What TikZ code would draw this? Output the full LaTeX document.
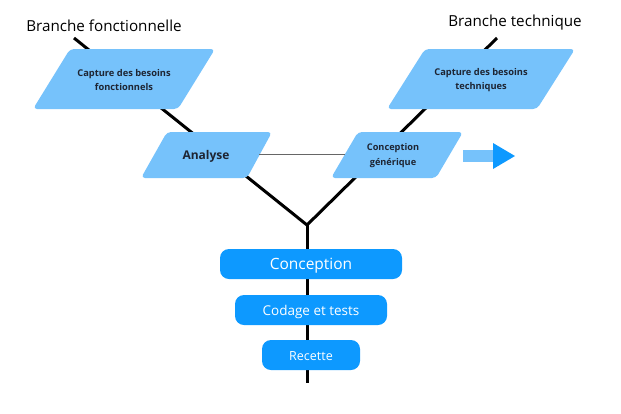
\documentclass[tikz,border=0pt]{standalone}
\usepackage{fontspec}
\setmainfont{Open Sans}
\definecolor{para}{HTML}{76C2FB}
\definecolor{pill}{HTML}{0D99FF}
\definecolor{ink}{HTML}{1E2533}
\begin{document}
\begin{tikzpicture}[x=1pt,y=-1pt,
  branch/.style={line width=3pt},
  pshape/.style={fill=para,rounded corners=4pt},
  ptext/.style={font=\bfseries\fontsize{9.3}{14.5}\selectfont,text=ink,align=center,inner sep=0pt},
  pillbox/.style={fill=pill,rounded corners=9pt},
  pilltext/.style={text=white,inner sep=0pt},
  title/.style={font=\fontsize{15.2}{17}\selectfont,text=black,inner sep=0pt}]
\useasboundingbox (0,0) rectangle (621,413);
% branch lines
\coordinate (ftop) at (74,38);
\coordinate (ttop) at (497,38);
\coordinate (j) at (307,225);
\coordinate (bot) at (307,383);
\draw[branch] (ftop) -- (j) -- (ttop);
\draw[branch] (j) -- (bot);
% parallelograms
\path[pshape] (70,49) -- (215,49) -- (178,109) -- (33,109) -- cycle;
\node[ptext] (cbf) at (124,80) {Capture des besoins\\fonctionnels};
\path[pshape] (425,49) -- (575,49) -- (537,109) -- (387,109) -- cycle;
\node[ptext] (cbt) at (481,80) {Capture des besoins\\techniques};
\path[pshape] (167,132) -- (272,132) -- (247,178) -- (141,178) -- cycle;
\node[ptext,font=\bfseries\fontsize{12}{14}\selectfont] (ana) at (206,156.5) {Analyse};
\path[pshape] (358,132) -- (463,132) -- (436,178) -- (331,178) -- cycle;
\node[ptext,font=\bfseries\fontsize{9.2}{15}\selectfont] (cg) at (393,156) {Conception\\générique};
% thin link
\coordinate (al) at (259,154);
\coordinate (cl) at (345,154);
\draw[black!60,line width=0.8pt] (al) -- (cl);
% block arrow
\fill[para] (463,150) rectangle (494,162);
\fill[pill] (493,143) -- (515,156) -- (493,169) -- cycle;
% pills
\path[pillbox] (220,249) rectangle (402,279);
\node[pilltext,font=\fontsize{15.5}{17}\selectfont] (con) at (311,265.5) {Conception};
\path[pillbox] (235,295) rectangle (387,325);
\node[pilltext,font=\fontsize{13.5}{15}\selectfont] (cod) at (311,311.5) {Codage et tests};
\path[pillbox] (262,340) rectangle (360,370);
\node[pilltext,font=\fontsize{12.5}{14}\selectfont] (rec) at (311,356) {Recette};
% titles
\node[title] (tf) at (104,26) {Branche fonctionnelle};
\node[title] (tt) at (515,23) {Branche technique};
\end{tikzpicture}
\end{document}
